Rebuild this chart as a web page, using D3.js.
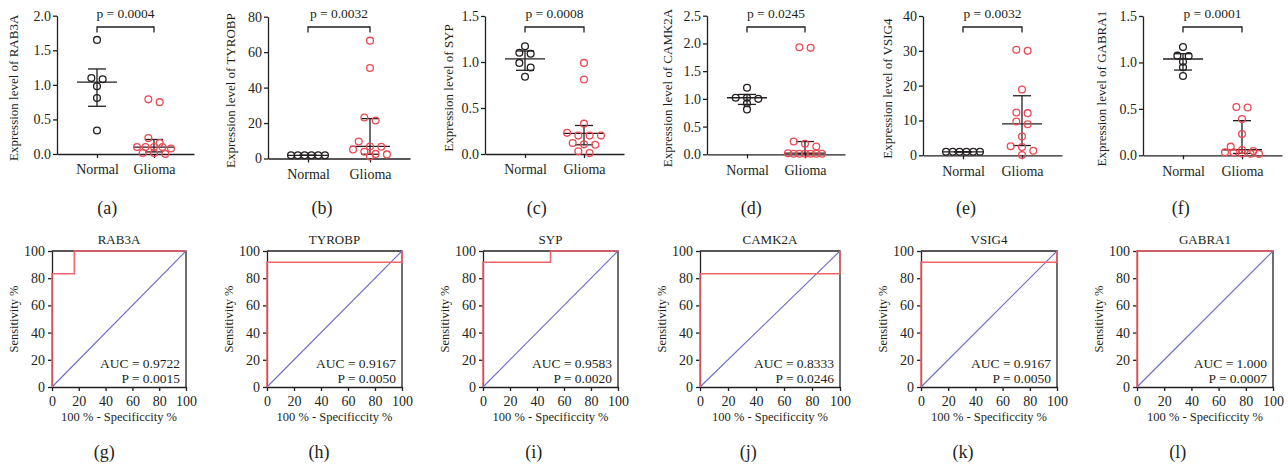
<!DOCTYPE html>
<html><head><meta charset="utf-8">
<script src="https://cdn.jsdelivr.net/npm/d3@7"></script>
<style>
body{margin:0;background:#fff}
svg{display:block}
text{font-family:"Liberation Serif","Times New Roman",serif;fill:#231f20}
</style>
</head><body>
<svg id="c" width="1288" height="466"></svg>
<script>
// ---------------- DATA ----------------
const genes = ["RAB3A", "TYROBP", "SYP", "CAMK2A", "VSIG4", "GABRA1"];
const groups = ["Normal", "Glioma"];
const topLetters = ["(a)", "(b)", "(c)", "(d)", "(e)", "(f)"];
const rocLetters = ["(g)", "(h)", "(i)", "(j)", "(k)", "(l)"];
const pLabels = ["p = 0.0004", "p = 0.0032", "p = 0.0008", "p = 0.0245", "p = 0.0032", "p = 0.0001"];
const yMax = [2.0, 80, 1.5, 2.5, 40, 1.5];
const yTicks = [
  [0, 0.5, 1.0, 1.5, 2.0],
  [0, 20, 40, 60, 80],
  [0, 0.5, 1.0, 1.5],
  [0, 0.5, 1.0, 1.5, 2.0, 2.5],
  [0, 10, 20, 30, 40],
  [0, 0.5, 1.0, 1.5]
];
const yTickFormats = [".1f", "d", ".1f", ".1f", "d", ".1f"];

const normalValues = [
  [1.65, 1.10, 1.08, 0.98, 0.81, 0.34],
  [1.8, 1.8, 1.8, 1.8, 1.8, 1.8],
  [1.17, 1.10, 1.09, 0.99, 0.94, 0.84],
  [1.20, 1.02, 1.02, 1.00, 0.92, 0.81],
  [1.0, 1.0, 1.0, 1.0, 1.0, 1.0],
  [1.166, 1.073, 1.069, 1.008, 0.947, 0.854]
];
const gliomaValues = [
  [0.79, 0.75, 0.23, 0.16, 0.10, 0.10, 0.10, 0.10, 0.08, 0.015, 0.015, 0.0],
  [66.5, 51.1, 23.1, 21.4, 9.6, 6.8, 6.6, 5.1, 3.8, 2.6, 2.3, 1.1],
  [0.99, 0.81, 0.33, 0.23, 0.20, 0.20, 0.20, 0.12, 0.105, 0.10, 0.03, 0.01],
  [1.93, 1.92, 0.23, 0.19, 0.14, 0.02, 0.01, 0.01, 0.01, 0.01, 0.01, 0.01],
  [30.3, 30.0, 18.9, 12.3, 12.1, 9.7, 8.9, 5.4, 2.6, 2.4, 1.3, 0.1],
  [0.52, 0.515, 0.39, 0.23, 0.093, 0.057, 0.045, 0.032, 0.032, 0.02, 0.018, 0.014]
];
// [centre, lower, upper]
const normalSummary = [
  [1.04, 0.69, 1.23],
  [1.8, 1.8, 1.8],
  [1.035, 0.91, 1.12],
  [1.02, 0.90, 1.08],
  [1.0, 1.0, 1.0],
  [1.037, 0.918, 1.094]
];
const gliomaSummary = [
  [0.10, 0.03, 0.21],
  [6.8, 2.4, 22.5],
  [0.225, 0.10, 0.31],
  [0.02, 0.01, 0.23],
  [9.0, 2.8, 17.1],
  [0.06, 0.02, 0.373]
];

// ROC curves: x = 100% - specificity, y = sensitivity
const rocX = [
  [0, 0, 16.7, 16.7, 100],
  [0, 0, 100, 100],
  [0, 0, 50, 50, 100],
  [0, 0, 100, 100],
  [0, 0, 100, 100],
  [0, 0, 100]
];
const rocY = [
  [0, 83.3, 83.3, 100, 100],
  [0, 91.7, 91.7, 100],
  [0, 91.7, 91.7, 100, 100],
  [0, 83.3, 83.3, 100],
  [0, 91.7, 91.7, 100],
  [0, 100, 100]
];
const aucLabels = ["AUC = 0.9722", "AUC = 0.9167", "AUC = 0.9583", "AUC = 0.8333", "AUC = 0.9167", "AUC = 1.000"];
const rocPLabels = ["P = 0.0015", "P = 0.0050", "P = 0.0020", "P = 0.0246", "P = 0.0050", "P = 0.0007"];
const rocTicks = [0, 20, 40, 60, 80, 100];

// ---------------- LAYOUT ----------------
const INK = "#231f20", RED = "#ec4a53", ROCRED = "#f0646b", DIAG = "#6b6bc8";
const FONT_TICK = 14, FONT_LAB = 14;
const topL = {
  axisX: [57, 268, 485, 707, 923, 1143],
  axisEnd: [194, 410, 624, 845, 1062, 1282],
  yTop: [15.7, 16.7, 16, 15.7, 16, 16],
  yBot: [154, 158.5, 154, 154.3, 155.3, 155.3],
  yLabOff: [44, 38, 37, 40, 36, 42]
};
const rocL = {
  left: [52, 267, 483, 700, 921, 1137],
  right: [186, 402, 618, 840, 1057, 1273],
  top: 251, bottom: 387
};
const panelW = 1288 / 6;

const svg = d3.select("#c");

function rowLayout(vals, y, maxD, maxSpan, T) {
  const pts = vals.map(v => ({ v, py: y(v) })).sort((a, b) => a.py - b.py);
  const rows = [];
  let cur = null;
  for (const p of pts) {
    if (!cur || p.py - cur[0].py > T) { cur = [p]; rows.push(cur); }
    else cur.push(p);
  }
  rows.forEach(r => {
    const D = r.length > 1 ? Math.min(maxD, maxSpan / (r.length - 1)) : 0;
    r.forEach((p, i) => { p.dx = (i - (r.length - 1) / 2) * D; });
  });
  return pts;
}

genes.forEach((gene, i) => {
  const g = svg.append("g");
  const x0 = topL.axisX[i], x1 = topL.axisEnd[i];
  const W = x1 - x0;
  const pad = 40 / (W - 80);
  const x = d3.scalePoint().domain(groups).range([x0, x1]).padding(pad);
  const y = d3.scaleLinear().domain([0, yMax[i]]).range([topL.yBot[i], topL.yTop[i]]);

  const ya = g.append("g").attr("transform", `translate(${x0},0)`)
    .call(d3.axisLeft(y).tickValues(yTicks[i]).tickFormat(d3.format(yTickFormats[i]))
      .tickSize(4).tickSizeOuter(0).tickPadding(2));
  const xa = g.append("g").attr("transform", `translate(0,${topL.yBot[i]})`)
    .call(d3.axisBottom(x).tickSize(4).tickSizeOuter(0).tickPadding(6.5));
  [ya, xa].forEach(a => {
    a.selectAll("path,line").attr("stroke", INK).attr("stroke-width", 1.3);
    a.selectAll("text").attr("fill", INK).style("font-size", FONT_TICK + "px")
      .style("font-family", '"Liberation Serif","Times New Roman",serif');
  });
  xa.selectAll("text").style("font-size", FONT_LAB + "px");

  g.append("text")
    .attr("transform", `translate(${x0 - topL.yLabOff[i]},${(topL.yTop[i] + topL.yBot[i]) / 2 + 3}) rotate(-90)`)
    .attr("text-anchor", "middle").attr("dominant-baseline", "central")
    .style("font-size", "13px").text("Expression level of " + gene);

  const xn = x("Normal"), xg = x("Glioma");
  g.append("path")
    .attr("d", `M${xn},32.5V27H${xg}V32.5`)
    .attr("fill", "none").attr("stroke", INK).attr("stroke-width", 1.3);
  g.append("text").attr("x", (xn + xg) / 2).attr("y", 17.5)
    .attr("text-anchor", "middle").style("font-size", "13.5px").text(pLabels[i]);

  const sums = [normalSummary[i], gliomaSummary[i]];
  groups.forEach((grp, k) => {
    const cx = x(grp), s = sums[k];
    const eb = g.append("g").attr("stroke", INK).attr("stroke-width", 1.3);
    eb.append("line").attr("x1", cx - 20).attr("x2", cx + 20).attr("y1", y(s[0])).attr("y2", y(s[0]));
    eb.append("line").attr("x1", cx).attr("x2", cx).attr("y1", y(s[1])).attr("y2", y(s[2]));
    eb.append("line").attr("x1", cx - 9).attr("x2", cx + 9).attr("y1", y(s[1])).attr("y2", y(s[1]));
    eb.append("line").attr("x1", cx - 9).attr("x2", cx + 9).attr("y1", y(s[2])).attr("y2", y(s[2]));
  });

  [normalValues[i], gliomaValues[i]].forEach((vals, k) => {
    const pts = rowLayout(vals, y, 11.3, 34, 5.5);
    g.append("g").selectAll("circle").data(pts).join("circle")
      .attr("cx", d => x(groups[k]) + d.dx).attr("cy", d => d.py).attr("r", 3.4)
      .attr("fill", "none").attr("stroke", k === 0 ? INK : RED).attr("stroke-width", 1.3);
  });

  svg.append("text").attr("x", panelW * i + panelW / 2).attr("y", 214)
    .attr("text-anchor", "middle").style("font-size", "18px").text(topLetters[i]);

  // ---------- ROC panel ----------
  const r = svg.append("g");
  const L = rocL.left[i], R = rocL.right[i];
  const rx = d3.scaleLinear().domain([0, 100]).range([L, R]);
  const ry = d3.scaleLinear().domain([0, 100]).range([rocL.bottom, rocL.top]);

  r.append("path").attr("d", `M${L},${rocL.top}H${R}V${rocL.bottom}`)
    .attr("fill", "none").attr("stroke", INK).attr("stroke-width", 1.3);
  const rxa = r.append("g").attr("transform", `translate(0,${rocL.bottom})`)
    .call(d3.axisBottom(rx).tickValues(rocTicks).tickFormat(d3.format("d")).tickSize(4).tickSizeOuter(0).tickPadding(5));
  const rya = r.append("g").attr("transform", `translate(${L},0)`)
    .call(d3.axisLeft(ry).tickValues(rocTicks).tickFormat(d3.format("d")).tickSize(4).tickSizeOuter(0).tickPadding(3));
  [rxa, rya].forEach(a => {
    a.selectAll("path,line").attr("stroke", INK).attr("stroke-width", 1.3);
    a.selectAll("text").attr("fill", INK).style("font-size", FONT_TICK + "px")
      .style("font-family", '"Liberation Serif","Times New Roman",serif');
  });

  r.append("line").attr("x1", rx(0)).attr("y1", ry(0)).attr("x2", rx(100)).attr("y2", ry(100))
    .attr("stroke", DIAG).attr("stroke-width", 1.1);
  const line = d3.line().x(d => rx(d[0])).y(d => ry(d[1]));
  r.append("path").datum(rocX[i].map((v, j) => [v, rocY[i][j]]))
    .attr("d", line).attr("fill", "none").attr("stroke", ROCRED).attr("stroke-width", 1.6);

  r.append("text").attr("x", (L + R) / 2).attr("y", 243.5).attr("text-anchor", "middle")
    .style("font-size", "13px").text(gene);
  r.append("text").attr("x", R - 6).attr("y", 368).attr("text-anchor", "end")
    .style("font-size", "13.5px").text(aucLabels[i]);
  r.append("text").attr("x", R - 6).attr("y", 382.5).attr("text-anchor", "end")
    .style("font-size", "13.5px").text(rocPLabels[i]);
  r.append("text").attr("x", (L + R) / 2).attr("y", 421).attr("text-anchor", "middle")
    .style("font-size", "12.5px").text("100 % - Specificcity %");
  r.append("text")
    .attr("transform", `translate(${L - 38},${(rocL.top + rocL.bottom) / 2}) rotate(-90)`)
    .attr("text-anchor", "middle").attr("dominant-baseline", "central")
    .style("font-size", "12.5px").text("Sensitivity %");
  svg.append("text").attr("x", panelW * i + panelW / 2 - 3).attr("y", 458)
    .attr("text-anchor", "middle").style("font-size", "18px").text(rocLetters[i]);
});
</script>
</body></html>
